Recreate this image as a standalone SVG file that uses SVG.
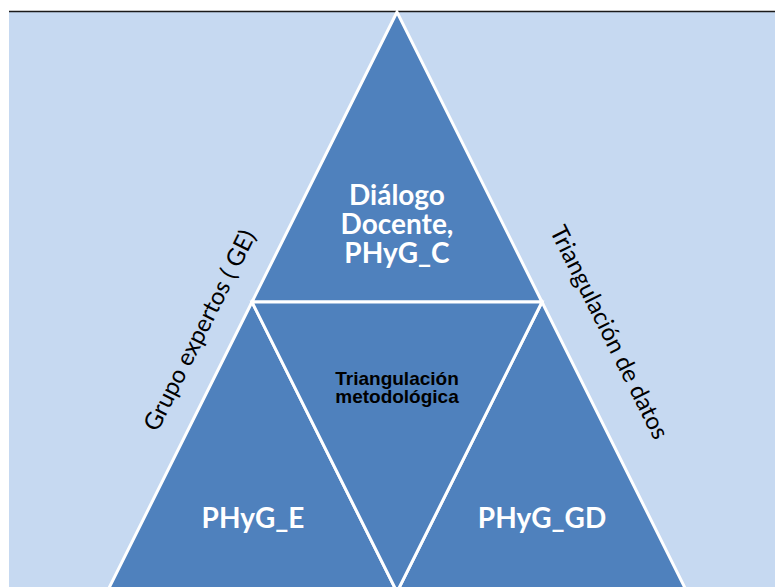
<svg xmlns="http://www.w3.org/2000/svg" width="775" height="587" viewBox="0 0 775 587">
  <style>
    .bg { fill: #C6D9F1; }
    .frame { stroke: #1a1a1a; stroke-width: 1.5; fill: none; }
    .tri { fill: #4F81BD; stroke: #FFFFFF; stroke-width: 3; stroke-linejoin: miter; }
    .big { font-family: Lato, "Open Sans", sans-serif; font-weight: bold; font-size: 28px; fill: #FFFFFF; text-anchor: middle; }
    .mid { font-family: "Liberation Sans", Arial, sans-serif; font-weight: bold; font-size: 19px; fill: #000000; text-anchor: middle; }
    .side { font-family: Lato, "Open Sans", sans-serif; font-size: 24px; fill: #000000; text-anchor: middle; }
  </style>

  <!-- slide background -->
  <rect class="bg" x="9" y="12" width="766" height="575"/>
  <line class="frame" x1="9" y1="11.5" x2="775" y2="11.5"/>

  <!-- upper triangle -->
  <g id="node-dialogo">
    <polygon class="tri" points="397,12 252,302 542,302"/>
    <text class="big" x="397" y="205">Diálogo<tspan x="397" dy="29">Docente,</tspan><tspan x="397" dy="29">PHyG_C</tspan></text>
  </g>

  <!-- lower left triangle -->
  <g id="node-phyg-e">
    <polygon class="tri" points="252,302 107,592 397,592"/>
    <text class="big" x="253" y="528">PHyG_E</text>
  </g>

  <!-- lower right triangle -->
  <g id="node-phyg-gd">
    <polygon class="tri" points="542,302 397,592 687,592"/>
    <text class="big" x="542" y="528">PHyG_GD</text>
  </g>

  <!-- central inverted triangle -->
  <g id="node-triangulacion-metodologica">
    <polygon class="tri" points="252,302 542,302 397,592"/>
    <text class="mid" x="397" y="385">Triangulación<tspan x="397" dy="18">metodológica</tspan></text>
  </g>

  <!-- labels running along the outer edges -->
  <g id="label-grupo-expertos">
    <text class="side" transform="translate(207,334) rotate(-63.43)">Grupo expertos ( GE)</text>
  </g>
  <g id="label-triangulacion-datos">
    <text class="side" transform="translate(602,336) rotate(63.43)">Triangulación de datos</text>
  </g>
</svg>
